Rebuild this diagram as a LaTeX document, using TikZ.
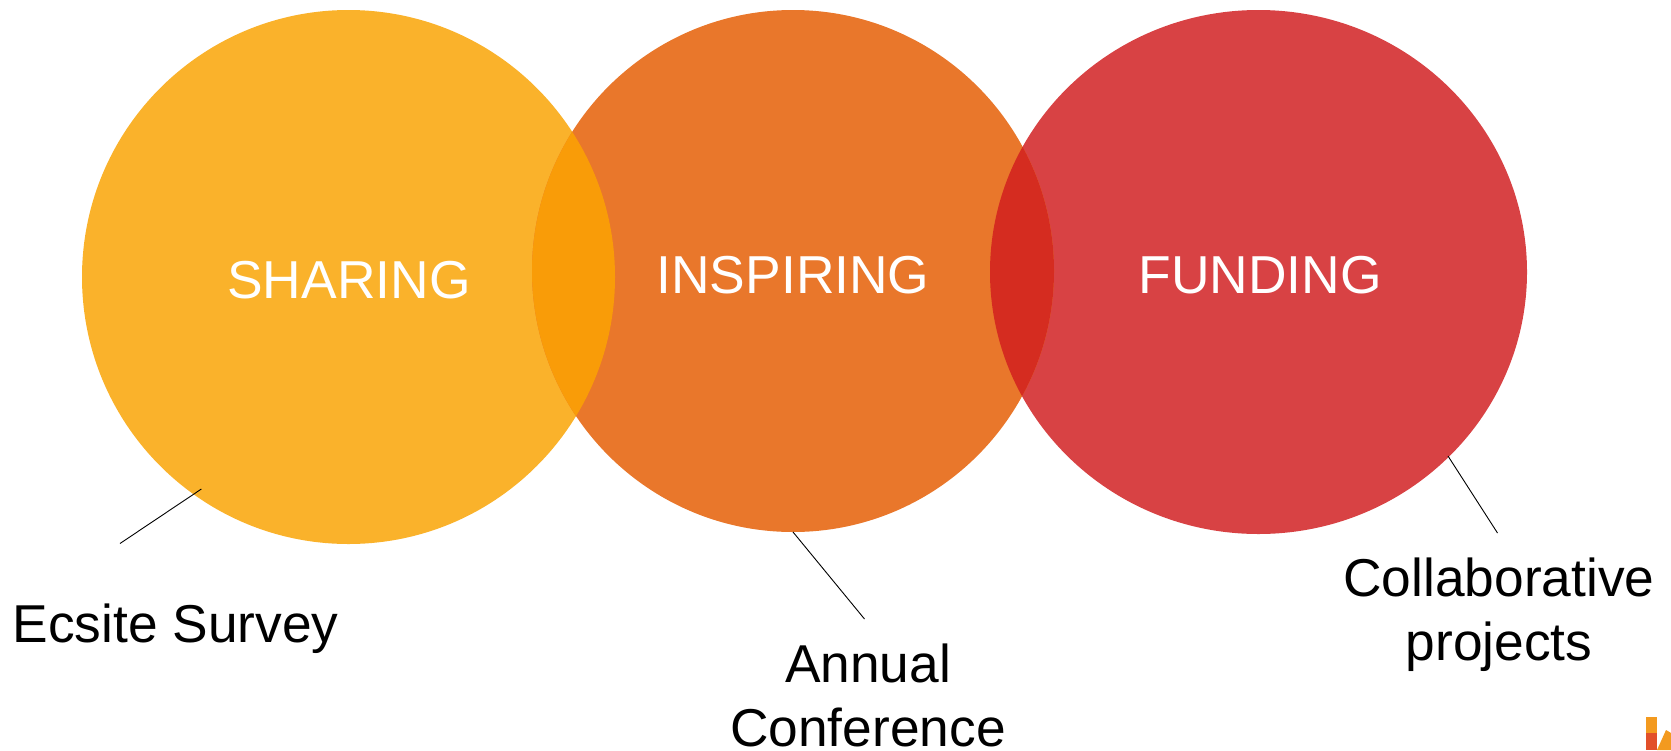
\documentclass[tikz,border=0pt]{standalone}
\usepackage{fontspec}
\setmainfont{Liberation Sans}
\usetikzlibrary{shapes.geometric}
\definecolor{sharingcol}{HTML}{FAB22B}
\definecolor{inspiringcol}{HTML}{E9772B}
\definecolor{fundingcol}{HTML}{D84244}
\definecolor{overlapleft}{HTML}{F99C08}
\definecolor{overlapright}{HTML}{D52C20}
\definecolor{logoorange}{HTML}{F39A1F}
\definecolor{logored}{HTML}{E2502A}
\begin{document}
\begin{tikzpicture}[x=1pt, y=-1pt,
every node/.style={inner sep=0pt, outer sep=0pt},
bubble/.style={ellipse},
word/.style={anchor=base, text=white, font=\fontsize{53.4}{60}\selectfont},
caption/.style={anchor=base, align=center, text=black, font=\fontsize{53.3}{64}\selectfont},
leader/.style={draw=black, line width=0.9pt}]
\useasboundingbox (0,0) rectangle (1671,750);

\node[bubble, fill=sharingcol, minimum width=533pt, minimum height=534pt] (sharing) at (348.5,277) {};
\node[bubble, fill=fundingcol, minimum width=537pt, minimum height=524pt] (funding) at (1258.5,272) {};
\node[bubble, fill=inspiringcol, minimum width=522pt, minimum height=522pt] (inspiring) at (793,271) {};
\begin{scope}
\clip (348.5,277) ellipse (266.5 and 267);
\fill[overlapleft] (793,271) circle (261);
\end{scope}
\begin{scope}
\clip (1258.5,272) ellipse (268.5 and 262);
\fill[overlapright] (793,271) circle (261);
\end{scope}

\node[word] (sharingword) at (349,298) {SHARING};
\node[word] (inspiringword) at (793,293) {INSPIRING};
\node[word] (fundingword) at (1260,293) {FUNDING};

\node[caption] (survey) at (175.5,642) {Ecsite Survey};
\node[caption] (conference) at (868,746) {Annual\\Conference};
\node[caption] (projects) at (1499,660) {Collaborative\\projects};

\coordinate (surveyend) at (120,543.5);
\coordinate (surveystart) at (201.4,489);
\coordinate (conferenceend) at (864.5,619);
\coordinate (projectsend) at (1497.5,533);
\coordinate (projectsstart) at (1448,456);
\draw[leader] (surveystart) -- (surveyend);
\draw[leader] (inspiring.south) -- (conferenceend);
\draw[leader] (projectsstart) -- (projectsend);

% logo corner
\fill[logoorange] (1646,717) rectangle (1657,733);
\fill[logored] (1646,733) rectangle (1657,750);
\fill[logoorange] (1657,750) -- (1666,730) -- (1671,733) -- (1671,750) -- cycle;
\end{tikzpicture}
\end{document}
